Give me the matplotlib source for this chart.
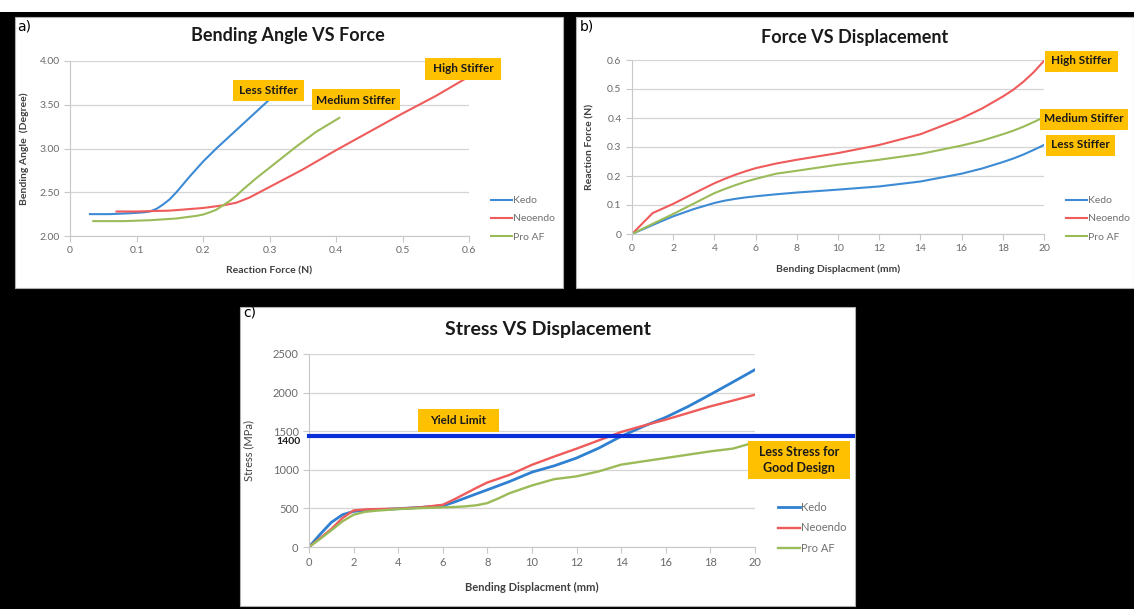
import numpy as np
import matplotlib.pyplot as plt
from matplotlib.patches import Rectangle

plt.rcParams['font.family'] = ['Lato', 'DejaVu Sans']

# ---- data ----
series = ['Kedo', 'Neoendo', 'Pro AF']

# a) bending angle vs reaction force
a_kedo_x = [0.03, 0.06, 0.09, 0.11, 0.12, 0.13, 0.14, 0.15, 0.16, 0.18, 0.20, 0.22, 0.24, 0.26, 0.28, 0.30]
a_kedo_y = [2.25, 2.25, 2.26, 2.27, 2.28, 2.31, 2.36, 2.42, 2.50, 2.68, 2.85, 3.00, 3.14, 3.28, 3.42, 3.56]
a_neo_x = [0.07, 0.10, 0.15, 0.20, 0.23, 0.25, 0.26, 0.27, 0.28, 0.30, 0.35, 0.40, 0.45, 0.50, 0.55, 0.595]
a_neo_y = [2.28, 2.28, 2.29, 2.32, 2.35, 2.38, 2.41, 2.44, 2.48, 2.56, 2.76, 2.98, 3.19, 3.40, 3.60, 3.80]
a_pro_x = [0.035, 0.08, 0.12, 0.16, 0.19, 0.20, 0.21, 0.22, 0.23, 0.24, 0.25, 0.26, 0.28, 0.31, 0.34, 0.37, 0.405]
a_pro_y = [2.17, 2.17, 2.18, 2.20, 2.23, 2.245, 2.27, 2.30, 2.35, 2.40, 2.46, 2.53, 2.66, 2.84, 3.02, 3.19, 3.35]

# b) reaction force vs bending displacement
b_x = [0, 1, 2, 3, 4, 4.5, 5, 5.5, 6, 7, 8, 10, 12, 14, 16, 17, 18, 18.5, 19, 19.5, 20]
b_kedo = [0, 0.031, 0.061, 0.086, 0.107, 0.115, 0.121, 0.126, 0.130, 0.137, 0.143, 0.153, 0.164,
          0.181, 0.208, 0.226, 0.248, 0.260, 0.274, 0.290, 0.307]
b_neo = [0, 0.072, 0.104, 0.140, 0.175, 0.190, 0.204, 0.216, 0.227, 0.243, 0.256, 0.279, 0.307,
         0.344, 0.399, 0.433, 0.474, 0.497, 0.525, 0.558, 0.597]
b_pro = [0, 0.035, 0.069, 0.105, 0.141, 0.155, 0.168, 0.180, 0.190, 0.208, 0.218, 0.239, 0.256,
         0.276, 0.305, 0.322, 0.344, 0.356, 0.370, 0.386, 0.403]

# c) stress vs bending displacement
c_x = [0, 0.5, 1, 1.5, 2, 2.5, 3, 4, 5, 6, 6.5, 7, 7.5, 8, 8.5, 9, 10, 11, 12, 13, 14, 15, 16, 17, 18, 19, 20]
c_kedo = [0, 165, 319, 418, 461, 475, 483, 496, 513, 534, 580, 634, 688, 741, 795, 849, 970, 1052,
          1153, 1282, 1434, 1563, 1680, 1820, 1975, 2135, 2297]
c_neo = [0, 115, 233, 375, 474, 486, 491, 496, 513, 547, 615, 690, 765, 836, 885, 935, 1065, 1172,
         1274, 1382, 1490, 1572, 1650, 1736, 1822, 1896, 1973]
c_pro = [0, 105, 216, 332, 418, 455, 470, 491, 504, 513, 518, 526, 540, 569, 630, 698, 797, 879,
         915, 980, 1067, 1110, 1153, 1196, 1239, 1274, 1356]
yield_limit = 1440

colors = ['#3d8bd4', '#ef5b5b', '#9bbb59']

W, H = 1134, 609
fig = plt.figure(figsize=(W / 100, H / 100), dpi=100, facecolor='black')


def fx(x):
    return x / W


def fy(y):
    return 1 - y / H


def panel(x0, y0, x1, y1):
    fig.patches.append(Rectangle((fx(x0), fy(y1)), fx(x1 - x0), (y1 - y0) / H,
                                 transform=fig.transFigure, facecolor='white',
                                 edgecolor='#b0b0b0', lw=0.8, zorder=-2))


def make_axes(l, t, r, b, tsize=7.5):
    ax = fig.add_axes([fx(l), fy(b), fx(r - l), (b - t) / H])
    ax.set_facecolor('none')
    for s in ['top', 'right']:
        ax.spines[s].set_visible(False)
    for s in ['left', 'bottom']:
        ax.spines[s].set_color('#c8c8c8')
        ax.spines[s].set_linewidth(0.8)
    ax.grid(axis='y', color='#d4d4d4', lw=0.9)
    ax.set_axisbelow(True)
    ax.tick_params(colors='#c8c8c8', labelcolor='#6a6a6a', labelsize=tsize, length=4, width=0.8)
    return ax


def tag(xc, yc, w, h, text, size=8.5):
    fig.patches.append(Rectangle((fx(xc - w / 2), fy(yc + h / 2)), fx(w), h / H,
                                 transform=fig.transFigure, facecolor='#ffc000',
                                 edgecolor='none', zorder=5))
    fig.text(fx(xc), fy(yc), text, ha='center', va='center', fontsize=size,
             fontweight='bold', color='#1a1a1a', zorder=6, linespacing=1.35)


def legend(ax, x, y, size=7.5):
    ax.legend(loc='upper left', bbox_to_anchor=(fx(x), fy(y)), bbox_transform=fig.transFigure,
              frameon=False, fontsize=size, handlelength=2.0, handletextpad=0.1,
              labelspacing=0.85, labelcolor='#707070', borderpad=0, borderaxespad=0)


# white strip on top and the three panels
fig.patches.append(Rectangle((0, fy(12)), 1, 12 / H, transform=fig.transFigure,
                             facecolor='white', edgecolor='none', zorder=-2))
panel(15, 17, 563, 288)
panel(576, 17, 1134, 288)
panel(240, 307, 855, 606)

# ---- a) ----
ax = make_axes(70, 61, 469, 236)
for xs, ys, c, n in [(a_kedo_x, a_kedo_y, colors[0], series[0]),
                     (a_neo_x, a_neo_y, colors[1], series[1]),
                     (a_pro_x, a_pro_y, colors[2], series[2])]:
    ax.plot(xs, ys, color=c, lw=1.5, label=n)
ax.set_xlim(0, 0.6)
ax.set_ylim(2.0, 4.0)
ax.set_xticks([0, 0.1, 0.2, 0.3, 0.4, 0.5, 0.6])
ax.set_xticklabels(['0', '0.1', '0.2', '0.3', '0.4', '0.5', '0.6'])
ax.set_yticks([2.0, 2.5, 3.0, 3.5, 4.0])
ax.set_yticklabels(['2.00', '2.50', '3.00', '3.50', '4.00'])
ax.set_xlabel('Reaction Force (N)', fontsize=7.5, fontweight='bold', color='#404040', labelpad=8)
ax.set_ylabel('Bending Angle  (Degree)', fontsize=7.5, fontweight='bold', color='#404040', labelpad=7)
legend(ax, 491, 196)
fig.text(fx(288), fy(36), 'Bending Angle VS Force', ha='center', va='center',
         fontsize=13, fontweight='bold', color='#1a1a1a')
fig.text(fx(17), fy(27), 'a)', ha='left', va='center', fontsize=10,
         family=['DejaVu Sans'], color='black')
tag(268, 90, 71, 21, 'Less Stiffer')
tag(356, 100, 89, 21, 'Medium Stiffer')
tag(463, 69, 76, 22, 'High Stiffer')

# ---- b) ----
ax = make_axes(632, 60, 1044, 234)
for ys, c, n in zip([b_kedo, b_neo, b_pro], colors, series):
    ax.plot(b_x, ys, color=c, lw=1.5, label=n)
ax.set_xlim(0, 20)
ax.set_ylim(0, 0.6)
ax.set_xticks(range(0, 21, 2))
ax.set_yticks([0, 0.1, 0.2, 0.3, 0.4, 0.5, 0.6])
ax.set_yticklabels(['0', '0.1', '0.2', '0.3', '0.4', '0.5', '0.6'])
ax.set_xlabel('Bending Displacment (mm)', fontsize=7.5, fontweight='bold', color='#404040', labelpad=8)
ax.set_ylabel('Reaction Force (N)', fontsize=7.5, fontweight='bold', color='#404040', labelpad=9)
legend(ax, 1066, 196)
fig.text(fx(855), fy(37), 'Force VS Displacement', ha='center', va='center',
         fontsize=13, fontweight='bold', color='#1a1a1a')
fig.text(fx(580), fy(27), 'b)', ha='left', va='center', fontsize=10,
         family=['DejaVu Sans'], color='black')
tag(1081, 61, 73, 21, 'High Stiffer')
tag(1084, 119, 88, 21, 'Medium Stiffer')
tag(1080, 145, 69, 21, 'Less Stiffer')

# ---- c) ----
ax = make_axes(309, 354, 755, 547, tsize=8)
lws = [2.0, 1.7, 1.7]
for ys, c, n, w in zip([c_kedo, c_neo, c_pro], ['#2f80d0', colors[1], colors[2]], series, lws):
    ax.plot(c_x, ys, color=c, lw=w, label=n)
ax.set_xlim(0, 20)
ax.set_ylim(0, 2500)
ax.set_xticks(range(0, 21, 2))
ax.set_yticks(range(0, 2501, 500))
ax.axhline(yield_limit, xmin=0, xmax=(853 - 309) / (755 - 309), color='#0a2fd8',
           lw=3, clip_on=False, zorder=4)
ax.set_xlabel('Bending Displacment (mm)', fontsize=8, fontweight='bold', color='#404040', labelpad=10)
ax.set_ylabel('Stress (MPa)', fontsize=8, color='#404040', labelpad=13)
ax.text(-0.02, 1370, '1400', transform=ax.get_yaxis_transform(), ha='right', va='center',
        fontsize=7.5, fontweight='bold', color='#1a1a1a')
legend(ax, 778, 502, size=8)
fig.text(fx(548), fy(329), 'Stress VS Displacement', ha='center', va='center',
         fontsize=14, fontweight='bold', color='#1a1a1a')
fig.text(fx(243), fy(313), 'c)', ha='left', va='center', fontsize=10,
         family=['DejaVu Sans'], color='black')
tag(458, 420, 81, 23, 'Yield Limit')
tag(799, 460, 102, 38, 'Less Stress for\nGood Design', size=9)

fig.savefig('out.png', dpi=100, facecolor='black')
